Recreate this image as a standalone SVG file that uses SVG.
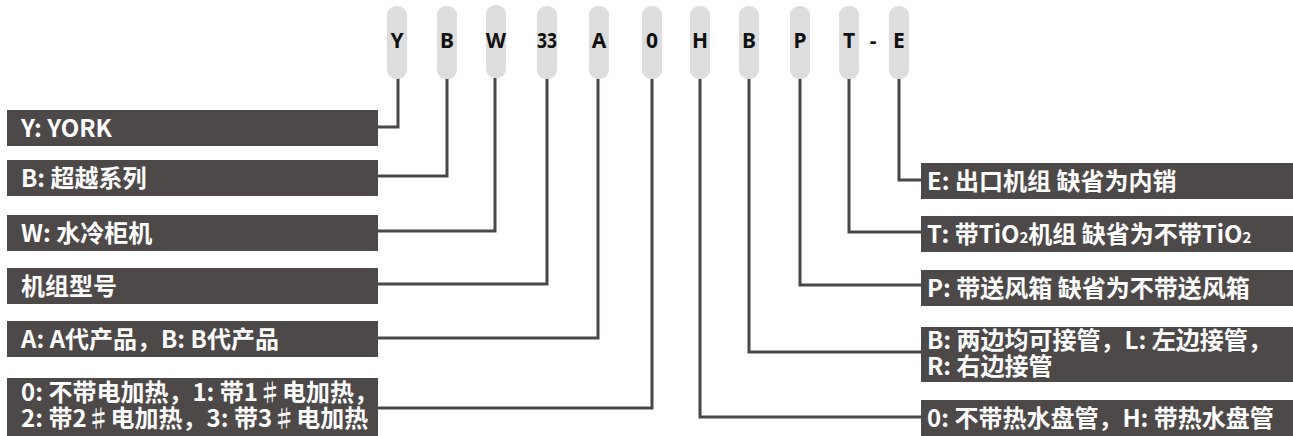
<svg xmlns="http://www.w3.org/2000/svg" width="1293" height="436" viewBox="0 0 1293 436">
<style>
.pill{fill:#dcdddc}
.code{font-family:"Noto Sans","Liberation Sans",sans-serif;font-weight:bold;font-size:21px;fill:#111;text-anchor:middle}
.box{fill:#4d4948}
.lbl{font-family:"Noto Sans CJK SC","Noto Sans",sans-serif;font-weight:bold;font-size:24px;fill:#fff}
.sub{font-size:15px}
.conn path{fill:none;stroke:#4b4747;stroke-width:3}
</style>
<rect width="1293" height="436" fill="#fff"/>
<g class="conn">
<path d="M398,78 V127 H378"/>
<path d="M447,78 V176 H378"/>
<path d="M495,78 V231 H378"/>
<path d="M547,78 V284 H378"/>
<path d="M598,78 V338 H378"/>
<path d="M652,78 V408 H378"/>
<path d="M700,78 V417 H921"/>
<path d="M749,78 V352 H921"/>
<path d="M800,78 V285 H921"/>
<path d="M849,78 V232 H921"/>
<path d="M899,78 V180 H921"/>
</g>
<g id="code-Y"><rect class="pill" x="387" y="6" width="20" height="73" rx="9"/><text class="code" x="397" y="48">Y</text></g>
<g id="code-B1"><rect class="pill" x="437" y="6" width="20" height="73" rx="9"/><text class="code" x="447" y="48">B</text></g>
<g id="code-W"><rect class="pill" x="486" y="5" width="20" height="73" rx="9"/><text class="code" x="496" y="48">W</text></g>
<g id="code-33"><rect class="pill" x="537" y="6" width="20" height="73" rx="9"/><text class="code" x="547" y="48" textLength="20" lengthAdjust="spacingAndGlyphs">33</text></g>
<g id="code-A"><rect class="pill" x="589" y="6" width="20" height="73" rx="9"/><text class="code" x="599" y="48">A</text></g>
<g id="code-0"><rect class="pill" x="642" y="6" width="20" height="73" rx="9"/><text class="code" x="652" y="48">0</text></g>
<g id="code-H"><rect class="pill" x="690" y="6" width="20" height="73" rx="9"/><text class="code" x="700" y="48">H</text></g>
<g id="code-B2"><rect class="pill" x="739" y="6" width="20" height="73" rx="9"/><text class="code" x="749" y="48">B</text></g>
<g id="code-P"><rect class="pill" x="790" y="6" width="20" height="73" rx="9"/><text class="code" x="800" y="48">P</text></g>
<g id="code-T"><rect class="pill" x="839" y="6" width="20" height="73" rx="9"/><text class="code" x="849" y="48">T</text></g>
<g id="code-dash"><text class="code" x="873" y="48">-</text></g>
<g id="code-E"><rect class="pill" x="889" y="6" width="20" height="73" rx="9"/><text class="code" x="899" y="48">E</text></g>

<g id="desc-Y"><rect class="box" x="7" y="110" width="371" height="36"/><text class="lbl" x="21" y="136.5">Y: YORK</text></g>
<g id="desc-B"><rect class="box" x="7" y="160" width="371" height="36"/><text class="lbl" x="21" y="186.5">B: 超越系列</text></g>
<g id="desc-W"><rect class="box" x="7" y="215" width="371" height="36"/><text class="lbl" x="21" y="241.5">W: 水冷柜机</text></g>
<g id="desc-33"><rect class="box" x="7" y="268" width="371" height="36"/><text class="lbl" x="21" y="294.5">机组型号</text></g>
<g id="desc-A"><rect class="box" x="7" y="321" width="371" height="36"/><text class="lbl" x="21" y="347.5">A: A代产品，B: B代产品</text></g>
<g id="desc-0"><rect class="box" x="7" y="378" width="371" height="58"/><text class="lbl"><tspan x="21" y="401">0: 不带电加热，1: 带1♯电加热，</tspan><tspan x="21" y="427">2: 带2♯电加热，3: 带3♯电加热</tspan></text></g>

<g id="desc-E"><rect class="box" x="921" y="163" width="372" height="36"/><text class="lbl" x="927" y="189.5">E: 出口机组 缺省为内销</text></g>
<g id="desc-T"><rect class="box" x="921" y="216" width="372" height="36"/><text class="lbl" x="927" y="242.5">T: 带TiO<tspan class="sub">2</tspan>机组 缺省为不带TiO<tspan class="sub">2</tspan></text></g>
<g id="desc-P"><rect class="box" x="921" y="270" width="372" height="36"/><text class="lbl" x="927" y="296.5">P: 带送风箱 缺省为不带送风箱</text></g>
<g id="desc-B2"><rect class="box" x="921" y="327" width="372" height="55"/><text class="lbl"><tspan x="927" y="349">B: 两边均可接管，L: 左边接管，</tspan><tspan x="927" y="375">R: 右边接管</tspan></text></g>
<g id="desc-H"><rect class="box" x="921" y="400" width="372" height="36"/><text class="lbl" x="927" y="426.5">0: 不带热水盘管，H: 带热水盘管</text></g>
</svg>
